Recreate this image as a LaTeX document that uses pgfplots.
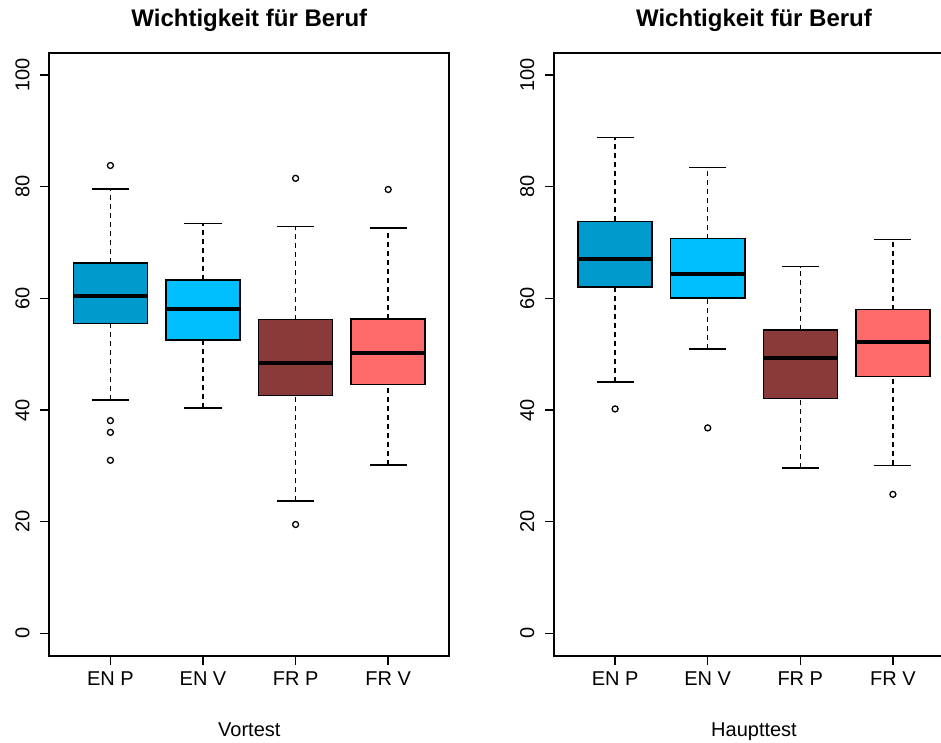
\documentclass[border=0pt]{standalone}
\usepackage{fontspec}
\setmainfont{Liberation Sans}
\usepackage{pgfplots}
\pgfplotsset{compat=1.18}
\definecolor{enp}{HTML}{009ACD}
\definecolor{env}{HTML}{00BFFF}
\definecolor{frp}{HTML}{8B3A3A}
\definecolor{frv}{HTML}{FF6A6A}
\pgfplotsset{
  rpanel/.style={
    scale only axis, width=400pt, height=603pt,
    anchor=south west,
    xmin=0.34, xmax=4.66, ymin=-4, ymax=104,
    xtick={1,2,3,4}, xticklabels={EN P, EN V, FR P, FR V},
    ytick={0,20,40,60,80,100},
    xtick pos=bottom, ytick pos=left,
    tick align=outside, major tick length=9pt,
    tick style={line width=1.5pt, black},
    axis line style={line width=1.8pt},
    /pgf/number format/assume math mode=true,
    ticklabel style={font=\fontsize{20}{24}\selectfont},
    xticklabel style={anchor=base, yshift=-21pt},
    yticklabel style={rotate=90, anchor=base, yshift=11pt},
    title style={at={(0.5,1)}, anchor=base, yshift=20pt, font=\fontsize{24}{28}\selectfont\bfseries},
    xlabel style={at={(axis description cs:0.5,0)}, anchor=base, yshift=-81pt, font=\fontsize{20}{24}\selectfont},
    title={Wichtigkeit für Beruf},
    unbounded coords=jump,
  },
  rbox/.style={draw=black, line width=1.5pt, fill=#1, mark=none, line join=miter},
  med/.style={draw=black, line width=4pt, mark=none, line cap=butt},
  whisk/.style={draw=black, line width=1.5pt, dash pattern=on 5pt off 4pt, mark=none},
  wcap/.style={draw=black, line width=1.5pt, solid, mark=none},
  outl/.style={only marks, mark=o, mark size=3pt, mark options={solid, draw=black, line width=1.3pt}},
}
\begin{document}
\begin{tikzpicture}
\begin{axis}[rpanel, at={(49.3pt,86.3pt)}, xlabel={Vortest}]
% whiskers (dashed)
\addplot[whisk] coordinates {(1,41.8) (1,55.5) (nan,nan) (1,66.3) (1,79.6) (nan,nan)
  (2,40.4) (2,52.5) (nan,nan) (2,63.3) (2,73.4) (nan,nan)
  (3,23.7) (3,42.6) (nan,nan) (3,56.2) (3,72.9) (nan,nan)
  (4,30.2) (4,44.6) (nan,nan) (4,56.3) (4,72.6)};
% whisker caps
\addplot[wcap] coordinates {(0.8,41.8) (1.2,41.8) (nan,nan) (0.8,79.6) (1.2,79.6) (nan,nan)
  (1.8,40.4) (2.2,40.4) (nan,nan) (1.8,73.4) (2.2,73.4) (nan,nan)
  (2.8,23.7) (3.2,23.7) (nan,nan) (2.8,72.9) (3.2,72.9) (nan,nan)
  (3.8,30.2) (4.2,30.2) (nan,nan) (3.8,72.6) (4.2,72.6)};
% boxes (lower quartile to upper quartile)
\addplot[rbox=enp] coordinates {(0.6,55.5) (1.4,55.5) (1.4,66.3) (0.6,66.3) (0.6,55.5)} -- cycle;
\addplot[rbox=env] coordinates {(1.6,52.5) (2.4,52.5) (2.4,63.3) (1.6,63.3) (1.6,52.5)} -- cycle;
\addplot[rbox=frp] coordinates {(2.6,42.6) (3.4,42.6) (3.4,56.2) (2.6,56.2) (2.6,42.6)} -- cycle;
\addplot[rbox=frv] coordinates {(3.6,44.6) (4.4,44.6) (4.4,56.3) (3.6,56.3) (3.6,44.6)} -- cycle;
% medians
\addplot[med] coordinates {(0.6,60.4) (1.4,60.4) (nan,nan) (1.6,58.1) (2.4,58.1) (nan,nan)
  (2.6,48.5) (3.4,48.5) (nan,nan) (3.6,50.2) (4.4,50.2)};
% outliers
\addplot[outl] coordinates {(1,83.8) (1,38.1) (1,36.0) (1,31.0) (3,81.5) (3,19.5) (4,79.5)};
\end{axis}
\begin{axis}[rpanel, at={(554pt,86.3pt)}, xlabel={Haupttest}]
\addplot[whisk] coordinates {(1,45.0) (1,62.0) (nan,nan) (1,73.8) (1,88.8) (nan,nan)
  (2,50.9) (2,60.1) (nan,nan) (2,70.7) (2,83.4) (nan,nan)
  (3,29.6) (3,42.1) (nan,nan) (3,54.3) (3,65.7) (nan,nan)
  (4,30.1) (4,46.0) (nan,nan) (4,58.0) (4,70.5)};
\addplot[wcap] coordinates {(0.8,45.0) (1.2,45.0) (nan,nan) (0.8,88.8) (1.2,88.8) (nan,nan)
  (1.8,50.9) (2.2,50.9) (nan,nan) (1.8,83.4) (2.2,83.4) (nan,nan)
  (2.8,29.6) (3.2,29.6) (nan,nan) (2.8,65.7) (3.2,65.7) (nan,nan)
  (3.8,30.1) (4.2,30.1) (nan,nan) (3.8,70.5) (4.2,70.5)};
\addplot[rbox=enp] coordinates {(0.6,62.0) (1.4,62.0) (1.4,73.8) (0.6,73.8) (0.6,62.0)} -- cycle;
\addplot[rbox=env] coordinates {(1.6,60.1) (2.4,60.1) (2.4,70.7) (1.6,70.7) (1.6,60.1)} -- cycle;
\addplot[rbox=frp] coordinates {(2.6,42.1) (3.4,42.1) (3.4,54.3) (2.6,54.3) (2.6,42.1)} -- cycle;
\addplot[rbox=frv] coordinates {(3.6,46.0) (4.4,46.0) (4.4,58.0) (3.6,58.0) (3.6,46.0)} -- cycle;
\addplot[med] coordinates {(0.6,67.1) (1.4,67.1) (nan,nan) (1.6,64.4) (2.4,64.4) (nan,nan)
  (2.6,49.4) (3.4,49.4) (nan,nan) (3.6,52.1) (4.4,52.1)};
\addplot[outl] coordinates {(1,40.2) (2,36.8) (4,24.9)};
\end{axis}
\pgfresetboundingbox
\path (0,0) rectangle (941pt,742pt);
\end{tikzpicture}
\end{document}
